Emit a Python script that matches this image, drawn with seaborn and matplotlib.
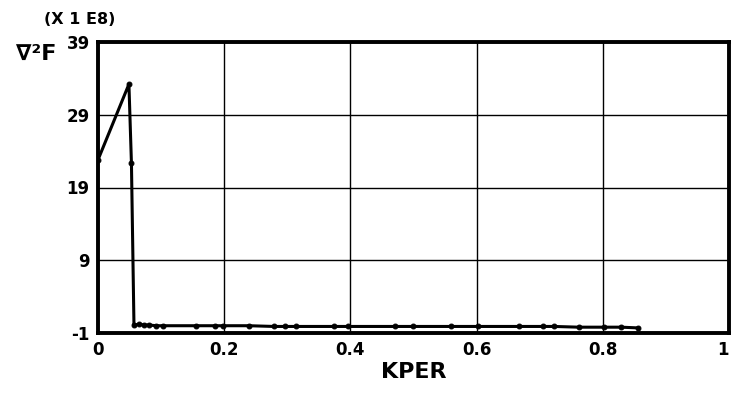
import matplotlib
matplotlib.use("Agg")
import matplotlib.pyplot as plt
import seaborn as sns
import pandas as pd

kper = [0.0, 0.049, 0.053, 0.057, 0.065, 0.073, 0.081, 0.092, 0.103, 0.155,
        0.185, 0.198, 0.239, 0.279, 0.296, 0.314, 0.374, 0.396, 0.471, 0.499,
        0.559, 0.602, 0.667, 0.705, 0.723, 0.762, 0.802, 0.829, 0.856]
del2f = [22.8, 33.2, 22.3, 0.1, 0.2, 0.1, 0.1, 0.0, 0.0, 0.0,
         0.0, 0.0, 0.0, -0.1, -0.1, -0.1, -0.1, -0.1, -0.1, -0.1,
         -0.1, -0.1, -0.1, -0.1, -0.1, -0.2, -0.2, -0.2, -0.3]
xticks = [0, 0.2, 0.4, 0.6, 0.8, 1]
xticklabels = ["0", "0.2", "0.4", "0.6", "0.8", "1"]
yticks = [-1, 9, 19, 29, 39]
yticklabels = ["-1", "9", "19", "29", "39"]

df = pd.DataFrame({"KPER": kper, "D2F": del2f})

sns.set_theme(style="white")
plt.rcParams["font.family"] = ["DejaVu Sans"]
plt.rcParams["font.weight"] = "bold"
plt.rcParams["text.color"] = "black"
plt.rcParams["axes.labelcolor"] = "black"

fig = plt.figure(figsize=(7.34, 3.94), dpi=100)
ax = fig.add_axes([98 / 734, 1 - 333 / 394, (729 - 98) / 734, (333 - 42) / 394])

sns.lineplot(data=df, x="KPER", y="D2F", ax=ax, color="black", linewidth=2.2,
             marker="o", markersize=3.5, markeredgecolor="black", sort=False)

ax.set_xlim(0, 1)
ax.set_ylim(-1, 39)
ax.set_xticks(xticks)
ax.set_xticklabels(xticklabels, fontsize=12, fontweight="bold", color="black")
ax.set_yticks(yticks)
ax.set_yticklabels(yticklabels, fontsize=12, fontweight="bold", color="black")
ax.get_xticklabels()[-1].set_ha("right")
ax.tick_params(axis="both", length=0, pad=6, colors="black")
ax.grid(True, color="black", linewidth=1.0)
for s in ax.spines.values():
    s.set_color("black")
    s.set_linewidth(2.8)

ax.set_xlabel("KPER", fontsize=16, fontweight="bold", labelpad=2, color="black")
ax.set_ylabel("")

fig.text(80 / 734, 1 - 20 / 394, "(X 1 E8)", fontsize=11.5, fontweight="bold",
         ha="center", va="center", color="black")
fig.text(36 / 734, 1 - 54 / 394, "∇²F", fontsize=16, fontweight="bold",
         ha="center", va="center", color="black")

fig.savefig("out.png", dpi=100)
